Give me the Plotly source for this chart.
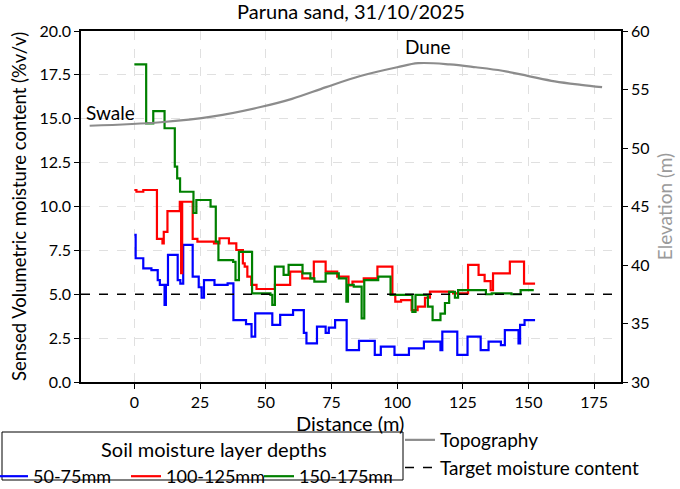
import plotly.graph_objects as go

# distance (m) where each step starts, and sensed moisture (%v/v)
dist_50_75 = [0, 0.5, 3.4, 6.5, 8.9, 9.7, 11.5, 12.0, 12.8, 16.5, 17.5, 18.6, 22.2, 24.5, 25.6, 26.5,
              30.5, 35.5, 37.7, 40.2, 42.5, 44.6, 46.0, 52.5, 55.5, 60.4, 64.5, 65.5, 69.5, 72.8,
              74.0, 76.4, 80.8, 85.5, 91.5, 93.8, 99.0, 104.5, 110.2, 116.5, 117.2, 122.9, 126.8,
              131.8, 134.8, 139.5, 141.0, 146.2, 146.8, 148.5, 152.5]
vwc_50_75 = [8.38, 7.05, 6.48, 6.38, 5.81, 5.53, 4.39, 5.53, 7.24, 5.81, 5.6, 7.81, 6.0, 5.4, 4.8, 5.81,
             5.53, 5.62, 3.53, 3.53, 3.3, 2.58, 3.91, 3.25, 3.82, 4.1, 2.8, 2.2, 3.15, 2.8,
             3.1, 3.53, 1.82, 2.34, 1.54, 2.01, 1.54, 1.92, 2.3, 1.82, 2.87, 1.54, 2.58,
             1.82, 2.3, 2.1, 2.96, 2.2, 3.25, 3.53, 3.53]

dist_100_125 = [0, 0.8, 3.4, 8.6, 10.7, 11.2, 12.6, 17.3, 17.8, 18.2, 22.2, 24.0, 30.3, 32.4, 36.0,
                38.8, 41.3, 42.0, 43.0, 44.5, 46.5, 53.5, 59.3, 63.9, 68.3, 72.8, 77.2, 81.5, 83.0,
                87.3, 92.5, 98.2, 99.3, 101.5, 105.5, 107.8, 110.6, 112.5, 121.3, 127.0, 131.0,
                133.3, 135.6, 136.5, 142.9, 148.3, 152.5]
vwc_100_125 = [10.94, 10.84, 10.94, 8.15, 7.9, 8.55, 9.74, 10.27, 6.2, 10.27, 8.15, 8.0, 7.9, 8.19, 7.9,
               7.52, 6.76, 6.57, 6.0, 5.53, 5.3, 5.53, 6.29, 5.91, 6.86, 6.29, 6.0, 5.5, 5.72,
               5.91, 6.57, 4.96, 4.58, 4.67, 4.1, 4.29, 4.8, 5.15, 5.05, 6.67, 6.1,
               5.75, 5.24, 6.19, 6.86, 5.6, 5.6]

dist_150_175 = [0, 4.5, 7.2, 11.5, 15.4, 16.3, 17.4, 22.5, 23.6, 29.0, 31.0, 32.0, 37.6, 38.5, 39.8,
                44.8, 51.8, 52.5, 53.5, 56.8, 58.7, 64.0, 67.0, 68.5, 72.8, 77.8, 80.7, 81.3, 83.5,
                86.5, 87.5, 92.8, 97.5, 105.8, 107.0, 111.7, 113.5, 116.5, 118.2, 119.8, 122.0,
                123.2, 133.8, 136.0, 143.5, 147.0, 152.0]
vwc_150_175 = [18.1, 14.74, 15.44, 14.46, 12.27, 11.6, 10.84, 9.63, 10.37, 9.99, 8.0, 6.95, 6.85, 5.81, 7.42,
               5.05, 4.96, 4.39, 6.57, 6.1, 6.67, 6.19, 5.9, 5.72, 6.19, 5.9, 4.58, 5.53, 5.43,
               3.63, 5.81, 6.0, 4.96, 4.0, 4.96, 4.3, 3.53, 3.9, 4.5, 5.13, 4.8,
               5.24, 5.0, 5.05, 5.0, 5.24, 5.24]

topo_dist = [-17, 10, 30, 48, 60, 73, 86, 100, 108, 120, 130, 140, 150, 160, 170, 178]
topo_elev = [51.9, 52.2, 52.7, 53.5, 54.2, 55.2, 56.15, 56.9, 57.25, 57.15, 56.9, 56.6, 56.15, 55.7, 55.4, 55.2]

target_vwc = 5.0
x_range = [-20.3, 185.2]

FONT = "Lato"

fig = go.Figure()

layers = [("50-75mm", dist_50_75, vwc_50_75, "#0000ff"),
          ("100-125mm", dist_100_125, vwc_100_125, "#ff0000"),
          ("150-175mm", dist_150_175, vwc_150_175, "#008000")]
for name, xs, ys, col in layers:
    fig.add_trace(go.Scatter(x=xs, y=ys, mode="lines", name=name, line_shape="hv",
                             line=dict(color=col, width=2.2), legend="legend"))

fig.add_trace(go.Scatter(x=topo_dist, y=topo_elev, mode="lines", name="Topography",
                         line=dict(color="#8c8c8c", width=2.2, shape="spline"),
                         yaxis="y2", legend="legend2"))
fig.add_trace(go.Scatter(x=x_range, y=[target_vwc, target_vwc], mode="lines",
                         name="Target moisture content",
                         line=dict(color="black", width=1.5, dash="dash"), legend="legend2"))

fig.add_annotation(x=-9.2, y=15.35, text="Swale", showarrow=False, font=dict(size=19, color="black"))
fig.add_annotation(x=111.7, y=19.1, text="Dune", showarrow=False, font=dict(size=19, color="black"))
# x title placed by hand
fig.add_annotation(xref="paper", yref="paper", x=(350 - 81) / 540, y=(382 - 423) / 351,
                   text="Distance (m)", showarrow=False, xanchor="center", yanchor="middle",
                   font=dict(size=20))

# frame and heading of the depth legend
fig.add_shape(type="rect", xref="paper", yref="paper",
              x0=(2 - 81) / 540, x1=(403 - 81) / 540, y0=(382 - 480) / 351, y1=(382 - 432) / 351,
              line=dict(color="black", width=1))
fig.add_annotation(xref="paper", yref="paper", x=(214 - 81) / 540, y=(382 - 449) / 351,
                   text="Soil moisture layer depths", showarrow=False, xanchor="center",
                   yanchor="middle", font=dict(size=20))

fig.update_layout(
    width=680, height=489,
    margin=dict(l=81, r=59, t=31, b=107, autoexpand=False),
    paper_bgcolor="white", plot_bgcolor="white",
    font=dict(family=FONT, size=16, color="black"),
    title=dict(text="Paruna sand, 31/10/2025", x=(81 + 621) / 2 / 680, xanchor="center",
               xref="container", yref="container", y=1 - 12 / 489, yanchor="middle",
               font=dict(size=20)),
    xaxis=dict(range=x_range, dtick=25, tick0=0, showgrid=True, griddash="dash",
               gridcolor="#e0e0e0", gridwidth=1, showline=True, linecolor="black", linewidth=1.5,
               mirror=True, ticks="outside", ticklen=5, tickcolor="black", zeroline=False,
               automargin=False),
    yaxis=dict(range=[0, 20], dtick=2.5, tickformat=".1f", showgrid=True, griddash="dash",
               gridcolor="#e0e0e0", showline=True, linecolor="black", linewidth=1.5,
               ticks="outside", ticklen=5, tickcolor="black", zeroline=False, automargin=False,
               title=dict(text="Sensed Volumetric moisture content (%v/v)", standoff=8,
                          font=dict(size=18.5))),
    yaxis2=dict(range=[30, 60], dtick=5, overlaying="y", side="right", showgrid=False,
                showline=True, linecolor="black", linewidth=1.5, ticks="outside", ticklen=5,
                tickcolor="black", zeroline=False, automargin=False,
                title=dict(text="Elevation (m)", font=dict(color="#9a9a9a"), standoff=10)),
    legend=dict(orientation="h", x=(-7 - 81) / 540, y=(382 - 458) / 351, xanchor="left",
                yanchor="top", borderwidth=0, bgcolor="rgba(0,0,0,0)",
                font=dict(size=18), itemwidth=30, tracegroupgap=0,
                entrywidth=88, entrywidthmode="pixels"),
    legend2=dict(orientation="v", x=(400 - 81) / 540, y=(382 - 421) / 351, xanchor="left",
                 yanchor="top", borderwidth=0, bgcolor="rgba(0,0,0,0)", font=dict(size=19),
                 itemwidth=30, tracegroupgap=0),
)

# drop the page's default body margin so the 680x489 figure fills the window
fig.write_html("out.html", config={"displayModeBar": False},
               post_script="document.body.style.margin = '0';")
